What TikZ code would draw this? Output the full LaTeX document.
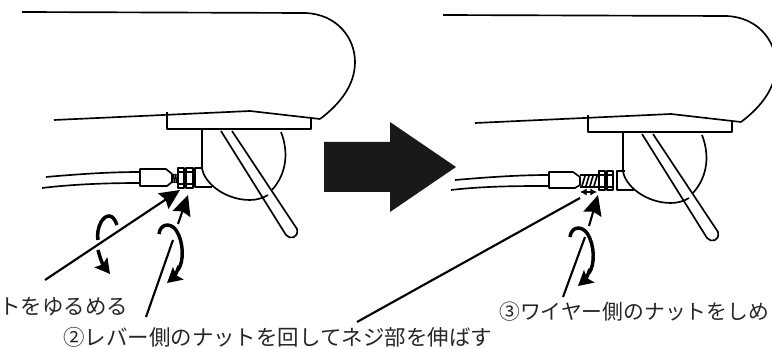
\documentclass[tikz,border=0pt]{standalone}
\usepackage{fontspec}
\setmainfont{Noto Sans CJK JP}[Scale=1.0]
\usetikzlibrary{calc,arrows.meta}
\tikzset{
  body/.style={line width=1.25pt,line join=round},
  part/.style={line width=1.25pt,line join=round},
  pointer/.style={line width=1.6pt,-{Stealth[length=15pt,width=14pt,inset=2pt]}},
  plainline/.style={line width=1.6pt},
  turn/.style={line width=2.6pt},
  turnhead/.style={line width=2.6pt,-{Stealth[length=11pt,width=12pt,inset=2pt]}},
  label/.style={anchor=west,inner sep=0pt,font=\fontsize{16.1pt}{17pt}\selectfont,text=black!85}
}
\newcommand{\unitbody}{
  \draw [body] (22,12) -- (305,13) .. controls (337,14) and (355,38) .. (355,62) .. controls (355,85) and (340,104) .. (320,119);
  \draw [body] (54,120) -- (250,111) -- (320,119);
  \draw [body] (167,112) -- (167,129) -- (311,129) -- (311,118);
  \draw [body] (202,130) -- (202,168) .. controls (204,183) and (225,200) .. (250,200) .. controls (257,200) and (263,198) .. (268,195);
  \draw [body] (281,132) .. controls (288,150) and (288,172) .. (272,190);
  \draw [body] (221,131) -- (286,235) .. controls (290,240) and (299,238) .. (297,229) -- (232,131);
}
\begin{document}
\begin{tikzpicture}[x=0.75pt,y=-0.75pt]
  \useasboundingbox (0,0) rectangle (772,349);
  % left view
  \unitbody
  \draw [part] (46,177) .. controls (80,174) and (110,172) .. (140,172);
  \draw [part] (42,188) .. controls (75,184) and (110,183) .. (140,183);
  \draw [part] (140,169) -- (166,169) -- (172,174) -- (172,182) -- (167,186) -- (140,186) -- cycle;
  \foreach \xa in {172,174,176} \draw [part] (\xa,183) -- (\xa+2,174);
  \draw [part] (178,168) rectangle (184,188);
  \draw [part] (186,168) rectangle (193,188);
  \draw [part] (178,172) -- (193,172) (178,184) -- (193,184);
  \draw [part] (203,168) -- (195,168) -- (195,187) -- (212,187);
  % big arrow between the views
  \fill [black!90] (324,142) -- (390,142) -- (390,122) -- (456,167) -- (390,212) -- (390,192) -- (324,192) -- cycle;
  % right view
  \begin{scope}[shift={(421,3)}]
    \unitbody
  \end{scope}
  \draw [part] (455,180) .. controls (490,177) and (520,175) .. (549,175);
  \draw [part] (451,190) .. controls (485,186) and (520,186) .. (549,186);
  \draw [part] (549,172) -- (573,172) -- (580,177) -- (580,185) -- (575,188) -- (549,188) -- cycle;
  \draw [part] (580,175) -- (598,175) (580,187) -- (598,187);
  \foreach \xa in {582,586,590,594} \draw [part] (\xa,186) -- (\xa+3,176);
  \draw [part] (599,171) rectangle (605,190);
  \draw [part] (607,171) rectangle (613,190);
  \draw [part] (599,175) -- (613,175) (599,187) -- (613,187);
  \draw [part] (625,171) -- (617,171) -- (617,190) -- (634,190);
  % labels
  \node [label] (looselabel) at (-1,307) {トをゆるめる};
  \node [label] (leverlabel) at (63,337) {②レバー側のナットを回してネジ部を伸ばす};
  \node [label,font=\fontsize{15.6pt}{17pt}\selectfont] (wirelabel) at (499,312) {③ワイヤー側のナットをしめ};
  % pointers
  \coordinate (loosestart) at (45,280);
  \coordinate (loosetip) at (180,190);
  \coordinate (leverstart) at (146,317);
  \coordinate (levermid) at (173,240);
  \coordinate (levermidb) at (178,224);
  \coordinate (levertip) at (188,195);
  \coordinate (spanstart) at (357,322);
  \coordinate (spanend) at (580,198);
  \coordinate (wirestart) at (563,297);
  \coordinate (wiremid) at (585,237);
  \coordinate (wiremidb) at (589,226);
  \coordinate (wiretip) at (598,195);
  \draw [pointer] (loosestart) -- (loosetip);
  \draw [plainline] (leverstart) -- (levermid);
  \draw [pointer] (levermidb) -- (levertip);
  \draw [plainline] (spanstart) -- (spanend);
  \draw [plainline] (wirestart) -- (wiremid);
  \draw [pointer] (wiremidb) -- (wiretip);
  \draw [line width=1.2pt,{Latex[length=5pt,width=5.5pt]}-{Latex[length=5pt,width=5.5pt]}] (580,192) -- (597,192);
  % turning arrows
  \draw [turn] (117,225) .. controls (113,213) and (106,214) .. (101,222) .. controls (98,228) and (97,234) .. (98,240);
  \draw [turnhead] (98,250) .. controls (100,258) and (103,265) .. (110,274);
  \draw [turn] (159,234) .. controls (160,224) and (170,222) .. (176,230) .. controls (184,242) and (184,262) .. (178,270);
  \draw [turnhead] (179,266) .. controls (177,272) and (174,277) .. (167,283);
  \draw [turn] (570,237) .. controls (571,227) and (581,225) .. (587,233) .. controls (595,245) and (595,265) .. (589,273);
  \draw [turnhead] (590,269) .. controls (588,275) and (585,280) .. (578,286);
\end{tikzpicture}
\end{document}
